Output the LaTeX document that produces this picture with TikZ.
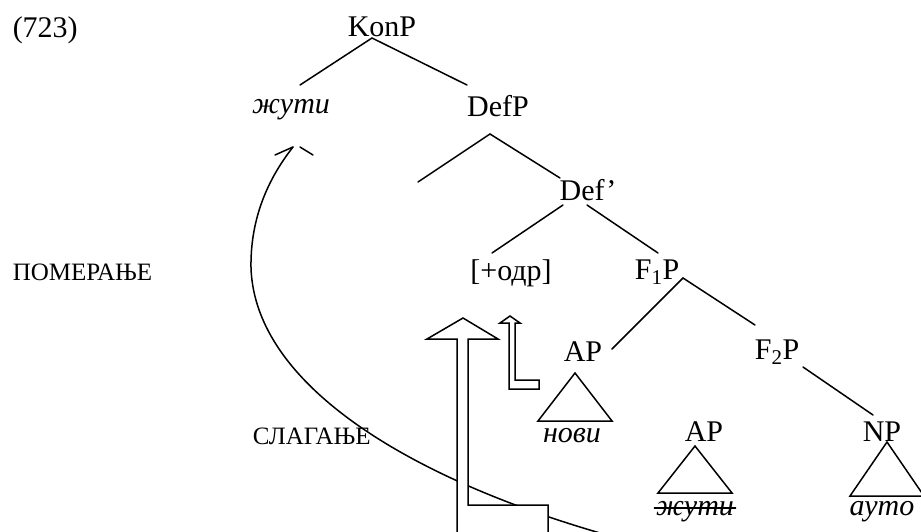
\documentclass[tikz,border=0pt]{standalone}
\usepackage{fontspec}
\setmainfont{Liberation Serif}
\begin{document}
\begin{tikzpicture}[x=1pt,y=-1pt,line join=round,line cap=round,line width=1.5pt,
  font=\fontsize{30}{36}\selectfont,
  lbl/.style={inner sep=1pt},
  side/.style={anchor=west,inner sep=0pt,font=\fontsize{25}{30}\selectfont},
  tri/.style={line join=miter},
  block/.style={fill=white,line join=miter,line cap=butt}]
  \useasboundingbox (0,0) rectangle (921,531);
  \node[anchor=west,inner sep=0pt] (num) at (12,30) {(723)};
  \node[side] (pom) at (12,272) {ПОМЕРАЊЕ};
  \node[side] (slag) at (252,436) {СЛАГАЊЕ};
  \node[lbl] (konp) at (382,27) {KonP};
  \node[lbl] (zuti) at (291,110) {\itshape жути};
  \node[lbl] (defp) at (498,106) {DefP};
  \coordinate (defspec) at (418,182);
  \node[lbl] (def) at (588,190) {Def’};
  \node[lbl] (odr) at (511,273) {[+одр]};
  \node[lbl] (fone) at (657,272) {F\textsubscript{1}P};
  \node[lbl] (apone) at (583,352) {AP};
  \node[lbl] (ftwo) at (777,352) {F\textsubscript{2}P};
  \node[lbl] (aptwo) at (704,432) {AP};
  \node[lbl] (np) at (882,432) {NP};
  \node[lbl] (novi) at (572,436) {\itshape нови};
  \node[lbl] (zutitwo) at (695,512) {\itshape жути};
  \node[lbl] (auto) at (882,512) {\itshape ауто};
  \draw ([xshift=-10,yshift=-11]konp.center) -- ([xshift=9,yshift=25]zuti.center);
  \draw ([xshift=-10,yshift=-11]konp.center) -- ([xshift=-31,yshift=21]defp.center);
  \draw ([xshift=-8,yshift=-28]defp.center) -- (defspec);
  \draw ([xshift=-8,yshift=-28]defp.center) -- ([xshift=-28,yshift=12]def.center);
  \draw ([xshift=-25,yshift=-15]def.center) -- ([xshift=-19,yshift=20]odr.center);
  \draw ([xshift=-1,yshift=-15]def.center) -- ([xshift=1,yshift=19]fone.center);
  \draw ([xshift=26,yshift=-6]fone.center) -- ([xshift=29,yshift=3]apone.center);
  \draw ([xshift=26,yshift=-6]fone.center) -- ([xshift=-22,yshift=27]ftwo.center);
  \draw ([xshift=26,yshift=-15]ftwo.center) -- ([xshift=-9,yshift=17]np.center);
  \draw[tri] ([xshift=-8,yshift=-21]apone.center) -- ++(37,48) -- ++(-74,0) -- cycle;
  \draw[tri] ([xshift=-9,yshift=-14]aptwo.center) -- ++(37,47) -- ++(-74,0) -- cycle;
  \draw[tri] ([xshift=5,yshift=-10]np.center) -- ++(37,54) -- ++(-74,0) -- cycle;
  \draw[line width=1.2pt] ([yshift=4]zutitwo.west) -- ([yshift=4]zutitwo.east);
  \coordinate (tip) at ([xshift=2,yshift=-37]zuti.center);
  \coordinate (tail) at (614,537);
  \draw (tail) .. controls (410,480) and (255,385) .. (251,268)
    .. controls (250,210) and (275,170) .. (tip);
  \draw ([xshift=-18,yshift=-8]tip) -- (tip);
  \draw ([xshift=7]tip) -- ([xshift=20,yshift=-8]tip);
  \draw[block] (457,540) -- (457,339) -- (427,339) -- (463,318) -- (498,339) -- (468,339)
    -- (468,505) -- (548,505) -- (548,540);
  \draw[block] (515,380) -- (515,323) -- (520,323) -- (510,316) -- (500,323) -- (509,323)
    -- (509,389) -- (539,389) -- (539,380) -- cycle;
\end{tikzpicture}
\end{document}
